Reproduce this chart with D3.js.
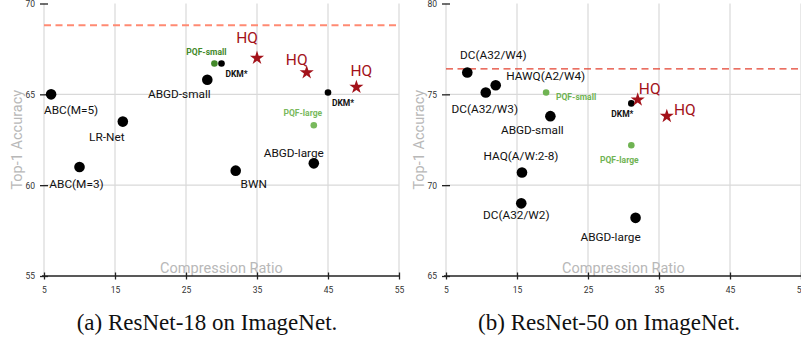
<!DOCTYPE html>
<meta charset="utf-8">
<style>
  body {margin: 0; background: #fff;}
  svg {display: block; font-family: Roboto, "Noto Sans", sans-serif;}
</style>
<svg width="801" height="341"></svg>
<script src="https://cdn.jsdelivr.net/npm/d3@7"></script>
<script>
  /**
   * ----------------------------------------------------------------------------------------------
   * data
   * ----------------------------------------------------------------------------------------------
   */
  const xTicks = [5, 15, 25, 35, 45, 55];
  const yTicks18 = [55, 60, 65, 70];
  const yTicks50 = [65, 70, 75, 80];

  // full precision reference line
  const baseline18 = 68.8;
  const baseline50 = 76.4;

  // ResNet-18 : name, compression ratio, top-1, kind
  const names18 = ["ABC(M=5)", "LR-Net", "ABC(M=3)", "BWN", "ABGD-large", "ABGD-small",
                   "PQF-small", "DKM*", "HQ", "HQ", "HQ", "DKM*", "PQF-large"];
  const ratio18 = [6.0, 16.1, 10.0, 32.0, 43.0, 28.0, 29.0, 30.0, 35.0, 42.0, 49.0, 45.0, 43.0];
  const acc18   = [65.0, 63.5, 61.0, 60.8, 61.2, 65.8, 66.7, 66.7, 67.0, 66.2, 65.4, 65.1, 63.3];
  const kind18  = ["big", "big", "big", "big", "big", "big", "pqf", "dkm", "hq", "hq", "hq", "dkm", "pqf"];

  // ResNet-50
  const names50 = ["DC(A32/W4)", "HAWQ(A2/W4)", "DC(A32/W3)", "PQF-small", "ABGD-small", "DKM*",
                   "HQ", "HQ", "PQF-large", "HAQ(A/W:2-8)", "DC(A32/W2)", "ABGD-large"];
  const ratio50 = [8.0, 12.0, 10.6, 19.1, 19.7, 31.1, 32.0, 36.1, 31.1, 15.7, 15.6, 31.7];
  const acc50   = [76.2, 75.5, 75.1, 75.1, 73.8, 74.5, 74.7, 73.8, 72.2, 70.7, 69.0, 68.2];
  const kind50  = ["big", "big", "big", "pqf", "big", "dkm", "hq", "hq", "pqf", "big", "big", "big"];

  /**
   * ----------------------------------------------------------------------------------------------
   * layout: label offsets (px from the marker) kept apart from data
   * ----------------------------------------------------------------------------------------------
   */
  const labelOff18 = [[20, 16], [-16, 15], [-3, 17], [18, 13], [-20, -11], [-28, 14],
                      [-8, -11], [15, 11], [-10, -20], [-10, -13], [5, -17], [15, 11], [-11, -12]];
  const labelOff50 = [[26, -18], [50, -9], [-1, 16], [30, 4], [-18, 14], [-9, 11],
                      [12, -11], [18, -7], [-12, 15], [-1, -17], [-5, 12], [-25, 19]];

  const panels = [
    {left: 44, ticksY: yTicks18, names: names18, ratio: ratio18, acc: acc18, kind: kind18,
     off: labelOff18, base: baseline18, baseColor: "#ff8a73", baseWidth: 2,
     pqfColors: ["#43892a", "#78b95c"], caption: "(a) ResNet-18 on ImageNet.", capX: 207},
    {left: 446, ticksY: yTicks50, names: names50, ratio: ratio50, acc: acc50, kind: kind50,
     off: labelOff50, base: baseline50, baseColor: "#e4402f", baseWidth: 1.3,
     pqfColors: ["#6fb352", "#6fb352"], caption: "(b) ResNet-50 on ImageNet.", capX: 609}
  ];

  const plotTop = 3.5, plotBottom = 276, plotW = 355;
  const svg = d3.select("svg");

  /**
   * ----------------------------------------------------------------------------------------------
   * draw one panel
   * ----------------------------------------------------------------------------------------------
   */
  function drawPanel(p) {
    const g = svg.append("g");
    const x = d3.scaleLinear().domain([5, 55]).range([p.left, p.left + plotW]);
    const y = d3.scaleLinear().domain(d3.extent(p.ticksY)).range([plotBottom, plotTop]);

    // grid
    g.append("g").selectAll("line").data(xTicks).enter().append("line")
      .attr("x1", d => x(d)).attr("x2", d => x(d))
      .attr("y1", plotTop).attr("y2", plotBottom)
      .style("stroke", "#d9d9d9").style("stroke-width", 1.2);
    g.append("g").selectAll("line").data(p.ticksY.slice(1, -1)).enter().append("line")
      .attr("x1", p.left).attr("x2", p.left + plotW)
      .attr("y1", d => y(d)).attr("y2", d => y(d))
      .style("stroke", "#d9d9d9").style("stroke-width", 1.2);

    // reference dashed line
    g.append("line")
      .attr("x1", p.left).attr("x2", p.left + plotW)
      .attr("y1", y(p.base)).attr("y2", y(p.base))
      .style("stroke", p.baseColor).style("stroke-width", p.baseWidth)
      .style("stroke-dasharray", "7,4.5");

    // axis titles
    g.append("text")
      .attr("x", p.left + plotW / 2).attr("y", 273)
      .attr("text-anchor", "middle")
      .style("font-size", "14.5px").style("fill", "#b8b8b8")
      .text("Compression Ratio");
    g.append("text")
      .attr("transform", `translate(${p.left - 22},${(plotTop + plotBottom) / 2}) rotate(-90)`)
      .attr("text-anchor", "middle")
      .style("font-size", "14.5px").style("fill", "#b8b8b8")
      .text("Top-1 Accuracy");

    // x axis
    const xAxis = g.append("g")
      .attr("transform", `translate(0,${plotBottom})`)
      .call(d3.axisBottom(x).tickValues(xTicks).tickSize(0).tickPadding(0));
    xAxis.select(".domain").remove();
    xAxis.append("line").attr("x1", p.left - 2).attr("x2", p.left + plotW)
      .style("stroke", "#222").style("stroke-width", 1.5);
    xAxis.selectAll(".tick line").attr("y1", -3.5).attr("y2", 3.5)
      .style("stroke", "#222").style("stroke-width", 1.3);
    xAxis.selectAll(".tick text").attr("y", 17).attr("dy", 0)
      .style("font-size", "8.5px").style("fill", "#333").style("font-family", "Roboto");

    // y axis
    const yAxis = g.append("g")
      .attr("transform", `translate(${p.left},0)`)
      .call(d3.axisLeft(y).tickValues(p.ticksY).tickSize(0).tickPadding(0));
    yAxis.select(".domain").remove();
    yAxis.selectAll(".tick line").attr("x1", -4).attr("x2", 4)
      .style("stroke", "#222").style("stroke-width", 1.3);
    yAxis.selectAll(".tick text").attr("x", -9).attr("dy", "0.35em")
      .style("font-size", "8.5px").style("fill", "#333").style("font-family", "Roboto");

    // points
    const pts = p.names.map((n, i) => ({name: n, r: p.ratio[i], a: p.acc[i], kind: p.kind[i], off: p.off[i]}));
    let pqfIdx = 0;
    pts.forEach(d => { if (d.kind === "pqf") d.col = p.pqfColors[pqfIdx++]; });

    const mark = g.append("g").selectAll("g").data(pts).enter().append("g")
      .attr("transform", d => `translate(${x(d.r)},${y(d.a)})`);

    mark.filter(d => d.kind !== "hq").append("circle")
      .attr("r", d => d.kind === "big" ? 5.3 : 3.3)
      .style("fill", d => d.kind === "pqf" ? d.col : "#000");
    mark.filter(d => d.kind === "hq").append("path")
      .attr("d", d3.symbol().type(d3.symbolStar).size(62))
      .style("fill", "#a3121a");

    // labels
    mark.append("text")
      .attr("x", d => d.off[0]).attr("y", d => d.off[1])
      .attr("dy", "0.35em").attr("text-anchor", "middle")
      .style("font-size", d => d.kind === "hq" ? "15.5px" : (d.kind === "big" ? "11.8px" : "8.5px"))
      .style("font-weight", d => (d.kind === "dkm" || d.kind === "pqf") ? "bold" : "normal")
      .style("fill", d => d.kind === "hq" ? "#a3121a" : (d.kind === "pqf" ? d.col : "#111"))
      .text(d => d.name);

    // caption
    svg.append("text")
      .attr("x", p.capX).attr("y", 330)
      .attr("text-anchor", "middle")
      .style("font-family", "'Liberation Serif', 'Times New Roman', serif")
      .style("font-size", "23px").style("fill", "#111")
      .text(p.caption);
  }

  /**
   * ----------------------------------------------------------------------------------------------
   * run
   * ----------------------------------------------------------------------------------------------
   */
  panels.forEach(drawPanel);
</script>
